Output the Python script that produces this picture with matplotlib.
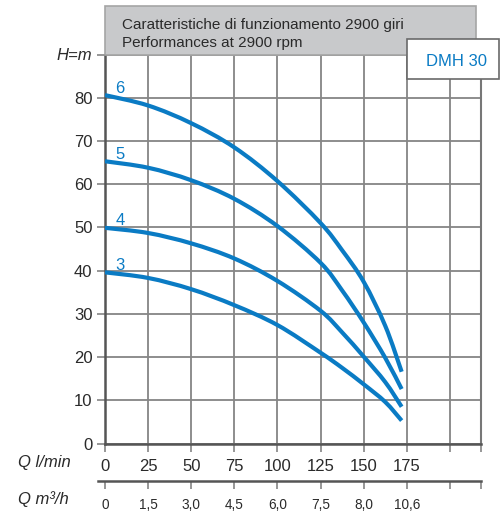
import matplotlib
matplotlib.use("Agg")
import matplotlib.pyplot as plt
from matplotlib.patches import Rectangle, PathPatch
from matplotlib.path import Path

plt.rcParams['font.family'] = ['Liberation Sans', 'DejaVu Sans']

# ---- data ----
flow_lmin = [0, 25, 50, 75, 100, 125, 137.5, 150, 162.5, 172]
head_6 = [80.6, 78.2, 74.1, 68.5, 60.7, 51.0, 44.7, 37.4, 27.2, 16.6]
head_5 = [65.3, 63.8, 60.9, 56.6, 50.3, 41.8, 35.4, 28.0, 19.8, 12.6]
head_4 = [49.9, 48.7, 46.3, 42.8, 37.6, 30.7, 25.7, 20.1, 14.2, 8.5]
head_3 = [39.6, 38.3, 35.7, 32.0, 27.4, 21.0, 17.5, 13.7, 9.6, 5.3]
curve_names = ["6", "5", "4", "3"]

q_ticks = [0, 25, 50, 75, 100, 125, 150, 175, 200]
q_lmin_labels = ["0", "25", "50", "75", "100", "125", "150", "175", ""]
q_m3h_labels = ["0", "1,5", "3,0", "4,5", "6,0", "7,5", "8,0", "10,6", ""]
h_ticks = [0, 10, 20, 30, 40, 50, 60, 70, 80, 90]
h_labels = ["0", "10", "20", "30", "40", "50", "60", "70", "80", "H=m"]

title_lines = ["Caratteristiche di funzionamento 2900 giri", "Performances at 2900 rpm"]
model = "DMH 30"

# ---- styling ----
W, H = 503, 512
blue = "#0a7bc4"
grid_c = "#858585"
text_c = "#2a2a2a"
x_max = 218

fig = plt.figure(figsize=(W / 100, H / 100), dpi=100)

def fx(px):
    return px / W

def fy(py):
    return 1 - py / H

def smooth_path(xs, ys):
    """Catmull-Rom spline through the read points, drawn as cubic Bezier segments."""
    pts = list(zip(xs, ys))
    n = len(pts)
    verts = [pts[0]]
    codes = [Path.MOVETO]
    for i in range(n - 1):
        p0 = pts[i - 1] if i > 0 else pts[i]
        p1 = pts[i]
        p2 = pts[i + 1]
        p3 = pts[i + 2] if i + 2 < n else pts[i + 1]
        c1 = (p1[0] + (p2[0] - p0[0]) / 6, p1[1] + (p2[1] - p0[1]) / 6)
        c2 = (p2[0] - (p3[0] - p1[0]) / 6, p2[1] - (p3[1] - p1[1]) / 6)
        verts += [c1, c2, p2]
        codes += [Path.CURVE4] * 3
    return Path(verts, codes)

ax = fig.add_axes([fx(105), fy(443.5), fx(481) - fx(105), fy(54.5) - fy(443.5)])
ax.set_xlim(0, x_max)
ax.set_ylim(0, 90)

for h, name in zip([head_6, head_5, head_4, head_3], curve_names):
    ax.add_patch(PathPatch(smooth_path(flow_lmin, h), facecolor='none', edgecolor=blue,
                           lw=3.0, capstyle='butt', zorder=3))
    ax.text(flow_lmin[0] + 8.7, h[0] + 1.6, name, color=blue, fontsize=12,
            ha='center', va='center', zorder=4)

ax.set_xticks(q_ticks + [x_max])
ax.set_xticklabels(q_lmin_labels + [""], fontsize=12, color=text_c)
ax.set_yticks(h_ticks)
ax.set_yticklabels(h_labels, fontsize=12, color=text_c)
ax.get_yticklabels()[-1].set_fontstyle('italic')
ax.grid(True, color=grid_c, lw=1.3)
ax.set_axisbelow(True)
ax.tick_params(axis='both', direction='out', length=6, width=1.2, color=grid_c, pad=3)
ax.tick_params(axis='x', pad=5)
for s in ['left', 'bottom']:
    ax.spines[s].set_color("#555555")
    ax.spines[s].set_linewidth(1.8)
ax.spines['right'].set_color("#777777")
ax.spines['right'].set_linewidth(1.5)
ax.spines['top'].set_visible(False)

# second flow axis (m3/h)
ax2 = fig.add_axes([fx(98), fy(481), fx(481) - fx(98), 0.001])
ax2.set_xlim(-(7 / 43.3) * 25, x_max)
ax2.set_ylim(0, 1)
ax2.set_xticks(q_ticks + [x_max])
ax2.set_xticklabels(q_m3h_labels + [""], fontsize=9.8, color=text_c)
ax2.set_yticks([])
for s in ['left', 'right', 'top']:
    ax2.spines[s].set_visible(False)
ax2.spines['bottom'].set_color("#555555")
ax2.spines['bottom'].set_linewidth(1.8)
ax2.tick_params(axis='x', direction='out', length=6, width=1.2, color=grid_c, pad=6)
ax2.patch.set_visible(False)

fig.text(fx(18), fy(463), "Q l/min", fontsize=12, style='italic', color=text_c,
         ha='left', va='center')
fig.text(fx(18), fy(499), "Q m³/h", fontsize=12, style='italic', color=text_c,
         ha='left', va='center')

# title box
fig.patches.append(Rectangle((fx(105), fy(55)), fx(476) - fx(105), fy(6) - fy(55),
                             transform=fig.transFigure, facecolor="#c8c9cb",
                             edgecolor="#a5a5a5", lw=1.2, zorder=0))
fig.text(fx(122), fy(25), title_lines[0], fontsize=11.0, color=text_c, ha='left', va='center')
fig.text(fx(122), fy(43), title_lines[1], fontsize=11.0, color=text_c, ha='left', va='center')

# model box
fig.patches.append(Rectangle((fx(407), fy(79)), fx(499) - fx(407), fy(39) - fy(79),
                             transform=fig.transFigure, facecolor="white",
                             edgecolor="#6a6a6a", lw=1.2, zorder=5))
fig.text(fx(457), fy(61), model, fontsize=12, color=blue, ha='center', va='center', zorder=6)

fig.savefig("out.png", dpi=100)
